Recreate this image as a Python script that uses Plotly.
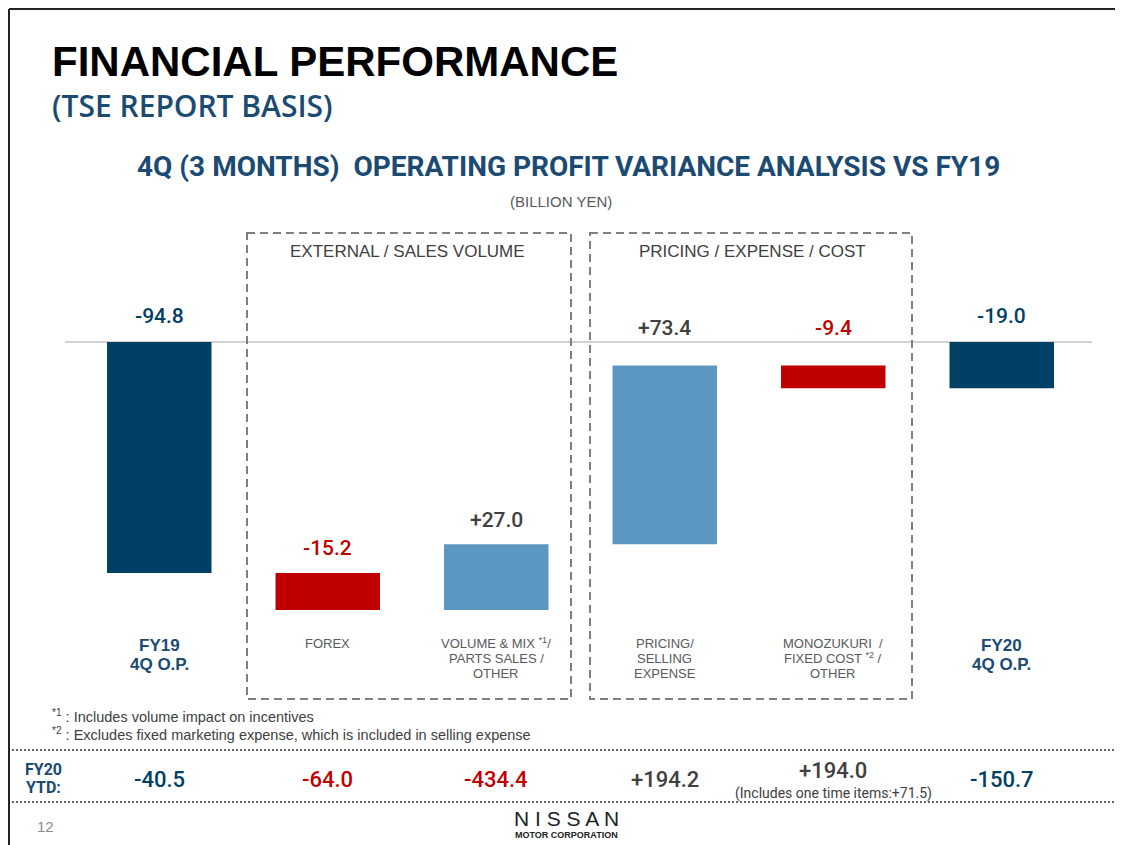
import plotly.graph_objects as go

# ---------------- data ----------------
categories = ["FY19 4Q O.P.", "FOREX", "VOLUME & MIX", "PRICING/SELLING EXPENSE",
              "MONOZUKURI / FIXED COST / OTHER", "FY20 4Q O.P."]
cat_labels = ["FY19<br>4Q O.P.", "FOREX", "VOLUME & MIX <sup>*1</sup>/<br>PARTS SALES /<br>OTHER",
              "PRICING/<br>SELLING<br>EXPENSE", "MONOZUKURI  /<br>FIXED COST <sup>*2</sup> /<br>OTHER",
              "FY20<br>4Q O.P."]
values = [-94.8, -15.2, 27.0, 73.4, -9.4, -19.0]
measures = ["absolute", "relative", "relative", "relative", "relative", "total"]
value_labels = ["-94.8", "-15.2", "+27.0", "+73.4", "-9.4", "-19.0"]
ytd_labels = ["-40.5", "-64.0", "-434.4", "+194.2", "+194.0", "-150.7"]
ytd_note = "(Includes one time items:+71.5)"
group_labels = ["EXTERNAL / SALES VOLUME", "PRICING / EXPENSE / COST"]
footnotes = ["<sup>*1</sup> : Includes volume impact on incentives",
             "<sup>*2</sup> : Excludes fixed marketing expense, which is included in selling expense"]

NAVY = "#003F66"
RED = "#C00000"
LIGHT = "#5B97C0"
GRAY_TXT = "#404040"
TITLE_NAVY = "#1B4A72"

# page offset of the html body (default 8px margin)
OFF = 8
W, H = 1123 - OFF, 845 - OFF
ML, MR, MT, MB = 75 - OFF, 37, 300 - OFF, 215
PW, PH = W - ML - MR, H - MT - MB


def px(x):
    return (x - OFF - ML) / PW


def py(y):
    return (H - MB - (y - OFF)) / PH


def txt(x, y, text, font, xanchor="center", yanchor="middle", xref="paper", align="center"):
    return dict(x=x if xref != "paper" else px(x), y=py(y), xref=xref, yref="paper", text=text,
                showarrow=False, xanchor=xanchor, yanchor=yanchor, font=font, align=align)


fig = go.Figure(go.Waterfall(
    x=categories, y=values, measure=measures,
    width=0.62,
    totals=dict(marker=dict(color=NAVY)),
    decreasing=dict(marker=dict(color=RED)),
    increasing=dict(marker=dict(color=LIGHT)),
    connector=dict(visible=False),
    hoverinfo="skip",
))

# bar tops for labels
tops = []
run = 0.0
for v, m in zip(values, measures):
    if m == "absolute":
        start, end = 0.0, v
        run = v
    elif m == "total":
        start, end = 0.0, run
    else:
        start, end = run, run + v
        run = run + v
    tops.append(max(start, end))

label_colors = []
for v, m in zip(values, measures):
    if m in ("absolute", "total"):
        label_colors.append(NAVY)
    elif v < 0:
        label_colors.append(RED)
    else:
        label_colors.append(GRAY_TXT)

label_shift = [26, 25, 24, 37, 37, 26]
ann = []
for c, t, lab, col, s in zip(categories, tops, value_labels, label_colors, label_shift):
    ann.append(dict(x=c, y=t, xref="x", yref="y", text=lab, showarrow=False, yshift=s,
                    xanchor="center", yanchor="middle",
                    font=dict(family="Roboto", size=21, color=col, weight=500)))

# category labels below plot (line by line)
for i, (c, lab) in enumerate(zip(categories, cat_labels)):
    if measures[i] in ("absolute", "total"):
        f = dict(family="Liberation Sans", size=17, color=TITLE_NAVY, weight="bold")
        y0, step = 645, 19
    else:
        f = dict(family="Liberation Sans", size=13, color="#595959")
        y0, step = 643, 15
    for k, line in enumerate(lab.split("<br>")):
        ann.append(txt(c, y0 + k * step, line, f, xref="x"))

# YTD row
ytd_colors = [NAVY, RED, RED, GRAY_TXT, GRAY_TXT, NAVY]
for i, (c, lab, col) in enumerate(zip(categories, ytd_labels, ytd_colors)):
    yy = 770 if i == 4 else 779
    ann.append(txt(c, yy, lab, dict(family="Roboto", size=22, color=col, weight=500), xref="x"))
ann.append(txt(categories[4], 793, ytd_note, dict(family="Roboto", size=14, color=GRAY_TXT), xref="x"))
ytd_font = dict(family="Roboto", size=16, color=TITLE_NAVY, weight="bold")
ann.append(txt(43, 769, "FY20", ytd_font))
ann.append(txt(43, 787, "YTD:", ytd_font))

# titles
ann.append(txt(50, 61, "FINANCIAL PERFORMANCE",
               dict(family="Liberation Sans", size=42, color="#000000", weight="bold"), xanchor="left"))
ann.append(txt(50, 105, "(TSE REPORT BASIS)",
               dict(family="Open Sans", size=30, color=TITLE_NAVY, weight=600), xanchor="left"))
ann.append(txt(568, 166, "4Q (3 MONTHS)  OPERATING PROFIT VARIANCE ANALYSIS VS FY19",
               dict(family="Roboto", size=28, color=TITLE_NAVY, weight="bold")))
ann.append(txt(561, 201, "(BILLION YEN)", dict(family="Liberation Sans", size=15, color="#595959")))

# group labels
for xc, lab in zip([407, 752], group_labels):
    ann.append(txt(xc, 251, lab, dict(family="Liberation Sans", size=17, color=GRAY_TXT)))

# footnotes
for yy, lab in zip([716, 734], footnotes):
    ann.append(txt(50, yy, lab, dict(family="Liberation Sans", size=14.5, color=GRAY_TXT), xanchor="left"))

# footer
ann.append(txt(45, 826, "12", dict(family="Liberation Sans", size=15, color="#8C8C8C")))
ann.append(txt(566, 818, "N I S S A N", dict(family="Liberation Sans", size=21, color="#222222")))
ann.append(txt(566, 835, "MOTOR CORPORATION", dict(family="Liberation Sans", size=9, color="#222222", weight="bold")))

shapes = []
# zero line
shapes.append(dict(type="line", xref="paper", yref="y", x0=px(65), x1=px(1092), y0=0, y1=0,
                   line=dict(color="#A6A6A6", width=1.2), layer="below"))
# dashed group boxes
for x0, x1 in [(247, 571), (590, 912)]:
    shapes.append(dict(type="rect", xref="paper", yref="paper", x0=px(x0), x1=px(x1), y0=py(233), y1=py(699),
                       line=dict(color="#7F7F7F", width=2, dash="8px,5px")))
# dotted separators
for yy in [750, 802]:
    shapes.append(dict(type="line", xref="paper", yref="paper", x0=px(OFF), x1=px(1123), y0=py(yy), y1=py(yy),
                       line=dict(color="#333333", width=1.5, dash="2px,2px")))
# page frame (top & left)
shapes.append(dict(type="line", xref="paper", yref="paper", x0=px(OFF + 1), x1=px(1123), y0=py(OFF + 1), y1=py(OFF + 1),
                   line=dict(color="#222222", width=2)))
shapes.append(dict(type="line", xref="paper", yref="paper", x0=px(OFF + 1), x1=px(OFF + 1), y0=py(OFF + 1), y1=py(845),
                   line=dict(color="#222222", width=2)))

# y range: zero at reference pixel 342, 2.437 px per unit
scale = 2.437
ytop = (342 - 300) / scale
ybot = ytop - PH / scale

fig.update_layout(
    width=W, height=H,
    margin=dict(l=ML, r=MR, t=MT, b=MB, pad=0),
    paper_bgcolor="white", plot_bgcolor="white",
    showlegend=False,
    xaxis=dict(visible=False, range=[-0.5, 5.5], fixedrange=True),
    yaxis=dict(visible=False, range=[ybot, ytop], fixedrange=True),
    annotations=ann, shapes=shapes,
)

fig.write_html("out.html", config=dict(displayModeBar=False))
